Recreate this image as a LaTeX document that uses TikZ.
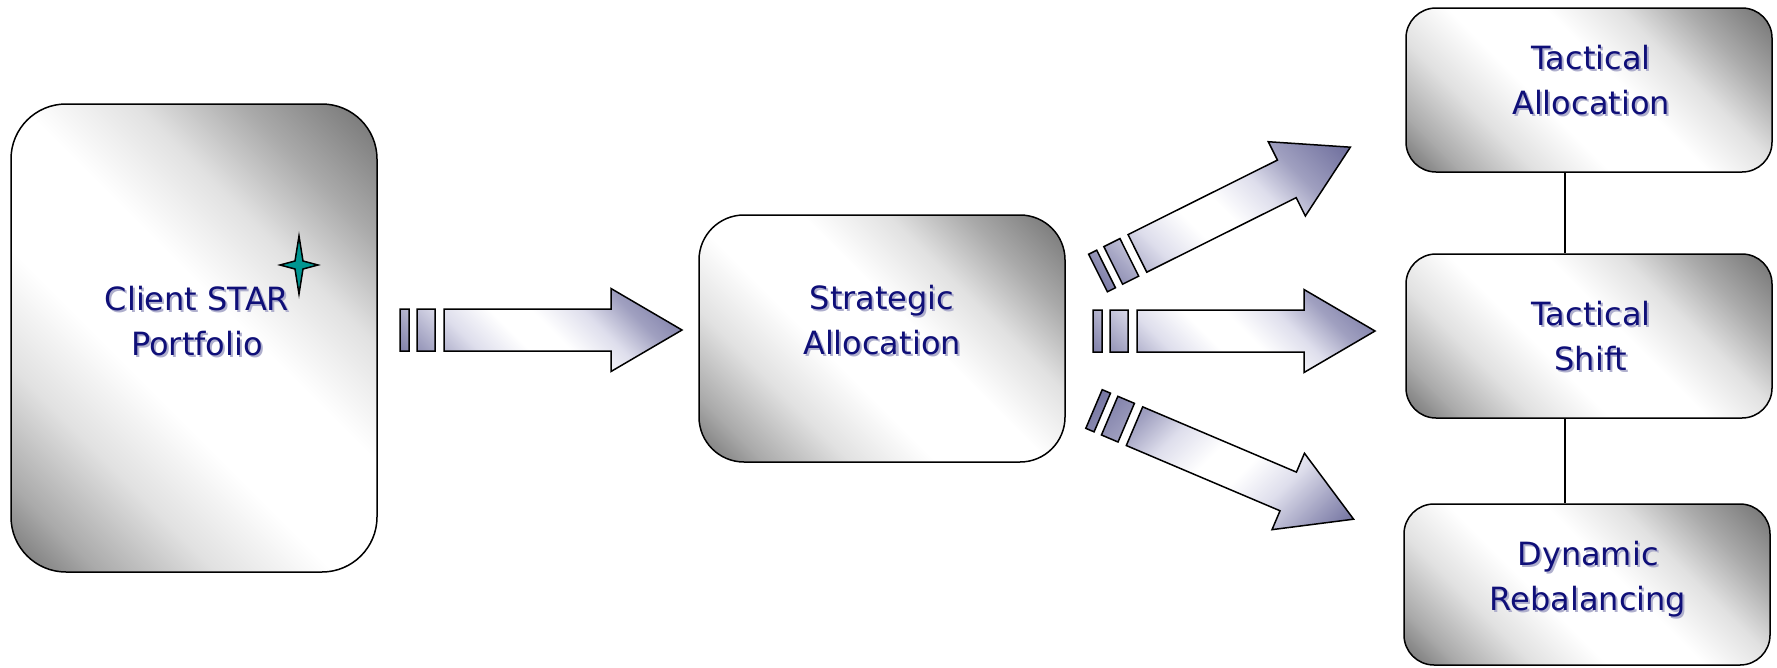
\documentclass[tikz,border=0pt]{standalone}
\usepackage{fontspec}
\setmainfont{DejaVu Sans}
\definecolor{boxdark}{RGB}{115,115,115}
\definecolor{boxmid}{RGB}{170,170,170}
\definecolor{boxlight}{RGB}{225,225,225}
\definecolor{arrdark}{RGB}{108,108,155}
\definecolor{arrmid}{RGB}{160,160,192}
\definecolor{arrlight}{RGB}{222,222,236}
\definecolor{txtblue}{RGB}{15,15,120}
\definecolor{txtshadow}{RGB}{175,175,205}
\definecolor{starfill}{RGB}{0,150,145}
\pgfdeclareverticalshading{boxshade}{100bp}{color(0bp)=(boxdark); color(15bp)=(boxdark);
  color(22bp)=(boxmid); color(32bp)=(boxlight); color(42bp)=(white); color(55bp)=(white);
  color(65bp)=(boxlight); color(74bp)=(boxmid); color(85bp)=(boxdark); color(100bp)=(boxdark)}
\pgfdeclareverticalshading{arrshade}{100bp}{color(0bp)=(arrdark); color(15bp)=(arrdark);
  color(24bp)=(arrmid); color(34bp)=(arrlight); color(44bp)=(white); color(52bp)=(white);
  color(62bp)=(arrlight); color(71bp)=(arrmid); color(85bp)=(arrdark); color(100bp)=(arrdark)}
\newcommand\shtxt[1]{\makebox[0pt][l]{\kern2pt\raisebox{-2pt}{\textcolor{txtshadow}{#1}}}#1}
\tikzset{
  box/.style={draw=black, line width=1.5pt, shade, shading=boxshade, shading angle=-45,
    minimum width=366pt, inner sep=0pt},
  boxtext/.style={text=txtblue, align=center, anchor=base, inner sep=0pt,
    font=\fontsize{32}{45}\selectfont},
  arrowsh/.style={draw=black, line width=1.5pt, line join=miter, shading=arrshade},
  conn/.style={draw=black, line width=1.3pt},
  starsh/.style={draw=black, line width=1.5pt, fill=starfill, line join=miter},
  pics/barrow/.style={code={
    \shade[arrowsh, #1] (0,-21) rectangle (9,21) (17,-21) rectangle (35,21)
      (44,-21) -- (211,-21) -- (211,-41.5) -- (282,0) -- (211,41.5) -- (211,21) -- (44,21) -- cycle;
  }}
}
\begin{document}
\begin{tikzpicture}[x=1pt,y=-1pt]
\useasboundingbox (0,0) rectangle (1777,667);
\fill[white] (0,0) rectangle (1777,667);
% boxes
\node[box, minimum height=468pt, rounded corners=55pt] (client) at (194,338) {};
\node[box, minimum height=247pt, rounded corners=45pt] (strat) at (882,338.5) {};
\node[box, minimum height=164pt, rounded corners=30pt] (tacalloc) at (1589,90) {};
\node[box, minimum height=164pt, rounded corners=30pt] (tacshift) at (1589,336) {};
\node[box, minimum height=161pt, rounded corners=30pt] (dynreb) at (1587,584.5) {};
% connectors
\draw[conn] ([xshift=-24pt]tacalloc.south) -- ([xshift=-24pt]tacshift.north);
\draw[conn] ([xshift=-24pt]tacshift.south) -- ([xshift=-22pt]dynreb.north);
% star
\draw[starsh] (299,236) -- (303,261) -- (318,265) -- (303,269) -- (299,294)
  -- (295,269) -- (280,265) -- (295,261) -- cycle;
% texts (anchor = baseline of the last line)
\node[boxtext] (clienttxt) at (197,355) {\shtxt{Client STAR}\\\shtxt{Portfolio}};
\node[boxtext] (strattxt) at (882,354) {\shtxt{Strategic}\\\shtxt{Allocation}};
\node[boxtext] (tacalloctxt) at (1591,114) {\shtxt{Tactical}\\\shtxt{Allocation}};
\node[boxtext] (tacshifttxt) at (1591,370) {\shtxt{Tactical}\\\shtxt{Shift}};
\node[boxtext] (dynrebtxt) at (1588,610) {\shtxt{Dynamic}\\\shtxt{Rebalancing}};
% block arrows
\pic at (400,330) {barrow={shading angle=-45}};
\pic at (1093,331) {barrow={shading angle=-45}};
\pic[rotate=26.5] at (1098,273) {barrow={shading angle=-45}};
\pic[rotate=-23] at (1094,409) {barrow={shading angle=45}};
\end{tikzpicture}
\end{document}
